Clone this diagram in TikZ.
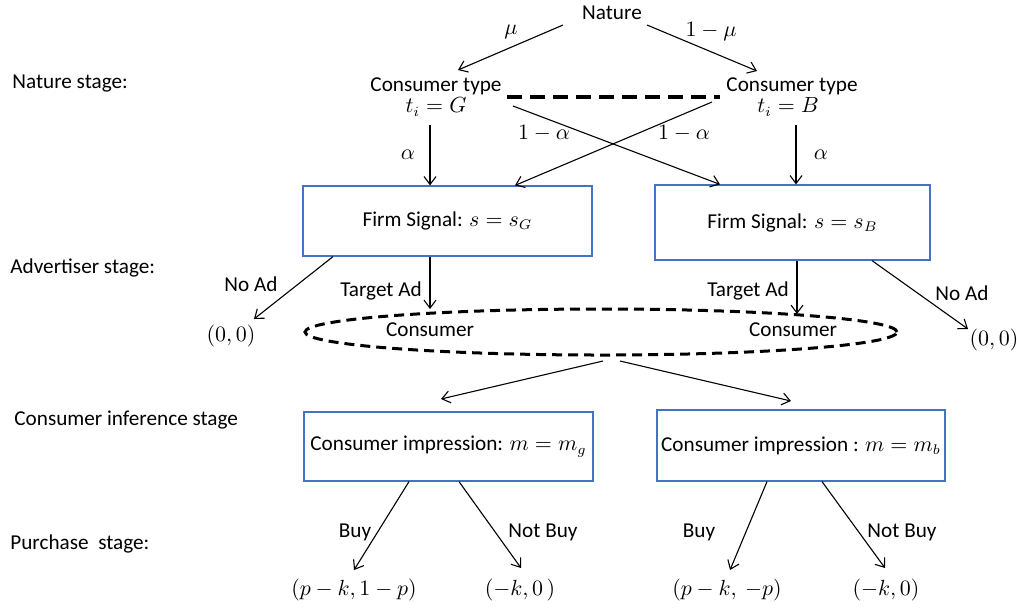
\documentclass[tikz,border=0pt]{standalone}
\usepackage{fontspec}
\setmainfont{Carlito}
\usetikzlibrary{arrows.meta,shapes.geometric}
\definecolor{boxblue}{RGB}{68,114,196}
\begin{document}
\begin{tikzpicture}[x=0.5pt,y=-0.5pt,
  every node/.style={font=\fontsize{10.6}{12}\selectfont, inner sep=0pt},
  arr/.style={-{Straight Barb[length=4pt,width=6pt]}, line width=0.55pt},
  box/.style={draw=boxblue, line width=0.6pt, rectangle},
  lbl/.style={anchor=west},
  info/.style={line width=2pt, dash pattern=on 7.5pt off 4pt}]
\useasboundingbox (0,0) rectangle (1017,607);

% stage labels
\node[lbl] (st1) at (12,84) {Nature stage:};
\node[lbl] (st2) at (10,268) {Advertiser stage:};
\node[lbl] (st3) at (14,420) {Consumer inference stage};
\node[lbl] (st4) at (10,544) {Purchase\ \ stage:};

% nature and consumer types
\node (nat) at (612,13) {Nature};
\node (cg) at (436,86) {Consumer type};
\node (cgt) at (436,107) {$t_i=G$};
\node (cb) at (792,86) {Consumer type};
\node (cbt) at (788,107) {$t_i=B$};

\coordinate (n1) at (563,25); \coordinate (g0) at (458,70);
\coordinate (n2) at (647,25); \coordinate (b0) at (757,71);
\draw[arr] (n1) -- (g0);
\draw[arr] (n2) -- (b0);
\node at (511,32) {$\mu$};
\node at (711,32) {$1-\mu$};

% information set between the two types
\coordinate (i1) at (507,97); \coordinate (i2) at (720,97);
\draw[info] (i1) -- (i2);

% firm signal boxes
\node[box, minimum width=144.5pt, minimum height=35pt] (fg) at (447.5,221) {Firm Signal: $s=s_G$};
\node[box, minimum width=137.5pt, minimum height=37.5pt] (fb) at (792.5,222.5) {Firm Signal: $s=s_B$};

\coordinate (ga) at (430,125); \coordinate (ba) at (796,125);
\draw[arr] (ga) -- (fg.north -| ga);
\draw[arr] (ba) -- (fb.north -| ba);
\node at (408,155) {$\alpha$};
\node at (821,155) {$\alpha$};

\coordinate (gx) at (513,106); \coordinate (bx) at (712,102);
\draw[arr] (gx) -- (fb.north -| 720,0);
\draw[arr] (bx) -- (fg.north -| 515,0);
\node at (544,133) {$1-\alpha$};
\node at (684,133) {$1-\alpha$};

% advertiser choices
\node[draw, ellipse, line width=1.5pt, dash pattern=on 5pt off 3pt,
      minimum width=296pt, minimum height=23pt] (ell) at (601,332) {};
\node (cl) at (430,330) {Consumer};
\node (cr) at (793,330) {Consumer};
\node (z1) at (231,336) {$(0,0)$};
\node (z2) at (994,340) {$(0,0)$};

\draw[arr] (fg.south -| 333,0) -- (254,319);
\node at (251,284) {No Ad};
\draw[arr] (fg.south -| 430,0) -- (430,309);
\node at (381,291) {Target Ad};
\draw[arr] (fb.south -| 797,0) -- (797,314);
\node at (748,291) {Target Ad};
\draw[arr] (fb.south -| 872,0) -- (968,329);
\node at (962,293) {No Ad};

% consumer inference
\node[box, minimum width=144.5pt, minimum height=34.5pt] (mg) at (448.5,446.5) {Consumer impression: $m=m_g$};
\node[box, minimum width=144pt, minimum height=35.5pt] (mb) at (801,445.5) {Consumer impression : $m=m_b$};
\coordinate (e1) at (603,361); \coordinate (e2) at (620,361);
\draw[arr] (e1) -- (441,399);
\draw[arr] (e2) -- (791,401);

% purchase decisions
\node (p1) at (354,590) {$(p-k,1-p)$};
\node (p2) at (520,590) {$(-k,0\,)$};
\node (p3) at (727,590) {$(p-k,\ -p)$};
\node (p4) at (886,590) {$(-k,0)$};

\draw[arr] (mg.south -| 409,0) -- (354,570);
\draw[arr] (mg.south -| 459,0) -- (521,568);
\draw[arr] (mb.south -| 767,0) -- (730,570);
\draw[arr] (mb.south -| 822,0) -- (885,568);
\node at (355,532) {Buy};
\node at (543,532) {Not Buy};
\node at (699,532) {Buy};
\node at (902,532) {Not Buy};
\end{tikzpicture}
\end{document}
